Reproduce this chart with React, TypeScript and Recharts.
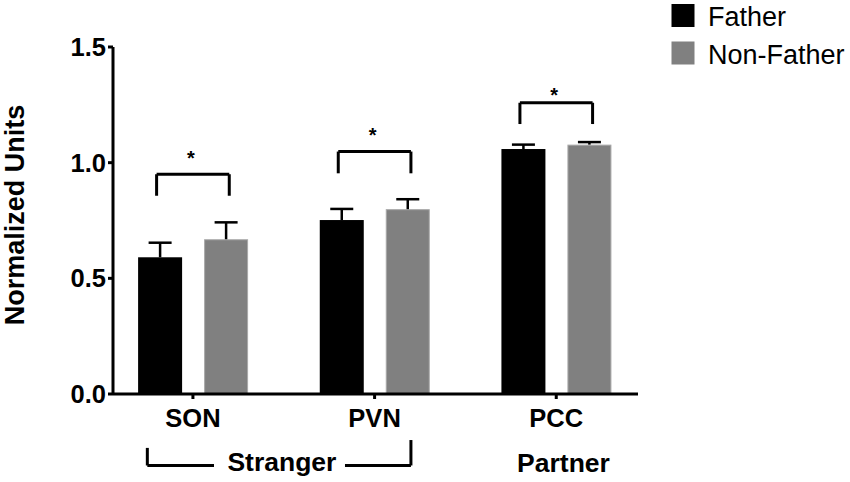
import React from 'react';
import {
  ComposedChart,
  Bar,
  XAxis,
  YAxis,
  Legend,
  ReferenceLine,
  ReferenceDot,
} from 'recharts';

const categories = ['SON', 'PVN', 'PCC'];
const fatherMeans = [0.591, 0.752, 1.059];
const fatherSem = [0.063, 0.048, 0.019];
const nonFatherMeans = [0.669, 0.799, 1.078];
const nonFatherSem = [0.073, 0.043, 0.011];
const yTicks = [0, 0.5, 1, 1.5];

// significance brackets (one per region), in y units
const sigBase = [0.857, 0.954, 1.167];
const sigTop = [0.95, 1.048, 1.259];
const sigStar = [1.038, 1.137, 1.311];
const sigHalf = 0.2;

// group labels under the axis
const groupNames = ['Stranger', 'Partner'];
const groupX = [0.49, 2.04];
const groupY = [-0.332, -0.337];

const FONT = '"Liberation Sans", Arial, Helvetica, sans-serif';
const FATHER = '#000000';
const NON_FATHER = '#808080';

const rows = categories.map((name, i) => ({
  x: i,
  name,
  father: fatherMeans[i],
  fatherSem: fatherSem[i],
  nonFather: nonFatherMeans[i],
  nonFatherSem: nonFatherSem[i],
}));

type Seg = [{ x: number; y: number }, { x: number; y: number }];

const bracketSegs: Seg[] = categories.flatMap((_, i) => {
  const l = i - sigHalf;
  const r = i + sigHalf;
  return [
    [{ x: l, y: sigBase[i] }, { x: l, y: sigTop[i] }],
    [{ x: l, y: sigTop[i] }, { x: r, y: sigTop[i] }],
    [{ x: r, y: sigTop[i] }, { x: r, y: sigBase[i] }],
  ] as Seg[];
});

// "Stranger" spans SON and PVN
const strangerSegs: Seg[] = [
  [{ x: -0.251, y: -0.233 }, { x: -0.251, y: -0.309 }],
  [{ x: -0.251, y: -0.309 }, { x: 0.116, y: -0.309 }],
  [{ x: 0.837, y: -0.309 }, { x: 1.2, y: -0.309 }],
  [{ x: 1.2, y: -0.199 }, { x: 1.2, y: -0.309 }],
];

function barWithError(meanKey: string, semKey: string, outline?: string) {
  return (props: any) => {
    const { x, y, width, height, fill, payload } = props;
    const mean = payload[meanKey];
    const pxPerUnit = mean ? height / mean : 0;
    const errTop = y - payload[semKey] * pxPerUnit;
    const cx = x + width / 2;
    return (
      <g>
        <rect
          x={outline ? x + 0.5 : x}
          y={outline ? y + 0.5 : y}
          width={outline ? width - 1 : width}
          height={outline ? height - 1 : height}
          fill={fill}
          stroke={outline ?? 'none'}
          strokeWidth={1}
        />
        <line x1={cx} y1={y} x2={cx} y2={errTop} stroke="#000" strokeWidth={2.5} />
        <line x1={cx - 11.5} y1={errTop} x2={cx + 11.5} y2={errTop} stroke="#000" strokeWidth={2.5} />
      </g>
    );
  };
}

function renderLegend(props: any) {
  const items = props.payload ?? [];
  return (
    <svg width={180} height={70}>
      {items.map((it: any, i: number) => (
        <g key={it.value}>
          <rect x={0.5} y={4 + i * 37.5} width={23} height={23} fill={it.color} />
          <text
            x={37}
            y={26 + i * 37.5}
            fontSize={27}
            fontFamily={FONT}
            fill="#000"
          >
            {it.value}
          </text>
        </g>
      ))}
    </svg>
  );
}

const yTickStyle = { fontSize: 25.5, fontWeight: 'bold', fill: '#000', fontFamily: FONT };
const xTickStyle = { fontSize: 25.5, fontWeight: 'bold', fill: '#000', fontFamily: FONT };

export default function App() {
  return (
    <div style={{ position: 'absolute', left: 0, top: 0, background: '#fff' }}>
      <ComposedChart
        width={850}
        height={482}
        data={rows}
        barGap={22}
        margin={{ top: 47, right: 212, bottom: 0, left: 0 }}
      >
        <XAxis
          type="number"
          dataKey="x"
          domain={[-0.44, 2.45]}
          allowDataOverflow
          ticks={[0, 1, 2]}
          tickFormatter={(v: number) => categories[v] ?? ''}
          height={88}
          tick={xTickStyle}
          tickSize={5}
          tickMargin={10}
          axisLine={{ stroke: '#000', strokeWidth: 3 }}
          tickLine={{ stroke: '#000', strokeWidth: 3 }}
        />
        <YAxis
          type="number"
          domain={[0, 1.5]}
          ticks={yTicks}
          allowDataOverflow
          width={113}
          tickFormatter={(v: number) => v.toFixed(1)}
          tick={yTickStyle}
          tickSize={5}
          tickMargin={2}
          axisLine={{ stroke: '#000', strokeWidth: 3 }}
          tickLine={{ stroke: '#000', strokeWidth: 3 }}
          label={{
            content: () => (
              <text
                transform="translate(24,215) rotate(-90)"
                textAnchor="middle"
                fontSize={27}
                fontWeight="bold"
                fontFamily={FONT}
                fill="#000"
              >
                Normalized Units
              </text>
            ),
          }}
        />
        <Legend
          layout="vertical"
          align="center"
          verticalAlign="middle"
          wrapperStyle={{ top: 0, left: 671, width: 180, height: 70 }}
          content={renderLegend}
        />
        <Bar
          dataKey="father"
          name="Father"
          fill={FATHER}
          barSize={44}
          isAnimationActive={false}
          shape={barWithError('father', 'fatherSem')}
        />
        <Bar
          dataKey="nonFather"
          name="Non-Father"
          fill={NON_FATHER}
          barSize={44}
          isAnimationActive={false}
          shape={barWithError('nonFather', 'nonFatherSem', '#a9a9a9')}
        />
        {bracketSegs.map((s, i) => (
          <ReferenceLine
            key={`b${i}`}
            segment={s}
            stroke="#000"
            strokeWidth={3}
            ifOverflow="visible"
          />
        ))}
        {sigStar.map((v, i) => (
          <ReferenceDot
            key={`s${i}`}
            x={i}
            y={v}
            r={0}
            ifOverflow="visible"
            shape={(p: any) => (
              <text
                x={p.cx - 2}
                y={p.cy + 11}
                textAnchor="middle"
                fontSize={20}
                fontWeight="bold"
                fontFamily={FONT}
                fill="#000"
              >
                *
              </text>
            )}
          />
        ))}
        {strangerSegs.map((s, i) => (
          <ReferenceLine
            key={`g${i}`}
            segment={s}
            stroke="#000"
            strokeWidth={3}
            ifOverflow="visible"
          />
        ))}
        {groupNames.map((g, i) => (
          <ReferenceDot
            key={g}
            x={groupX[i]}
            y={groupY[i]}
            r={0}
            ifOverflow="visible"
            shape={(p: any) => (
              <text
                x={p.cx}
                y={p.cy}
                textAnchor="middle"
                fontSize={26.5}
                fontWeight="bold"
                fontFamily={FONT}
                fill="#000"
              >
                {g}
              </text>
            )}
          />
        ))}
      </ComposedChart>
    </div>
  );
}
